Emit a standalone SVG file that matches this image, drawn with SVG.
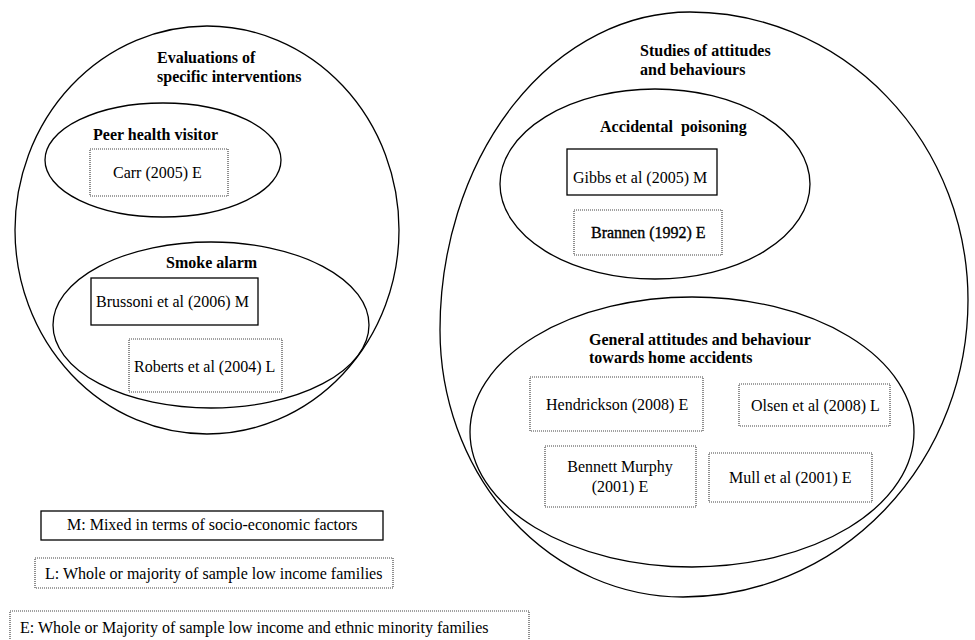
<svg xmlns="http://www.w3.org/2000/svg" width="975" height="640" viewBox="0 0 975 640">
<style>
text{font-family:"Liberation Serif","Times New Roman",serif;font-size:16px;fill:#000}
.b{font-weight:bold}
.el{fill:none;stroke:#000;stroke-width:1.3}
.solid{fill:#fff;stroke:#000;stroke-width:1.3}
.dot{fill:#fff;stroke:#444;stroke-width:1.2;stroke-dasharray:1 1}
</style>
<rect width="975" height="640" fill="#fff"/>
<g id="evaluations">
<ellipse class="el" cx="207" cy="230" rx="192" ry="204"/>
<text class="b" x="157" y="63">Evaluations of</text>
<text class="b" x="157" y="82">specific interventions</text>
</g>
<g id="peer">
<ellipse class="el" cx="163" cy="160" rx="118" ry="57"/>
<text class="b" x="93" y="140">Peer health visitor</text>
</g>
<g id="carr">
<rect class="dot" x="90" y="149" width="138" height="47"/>
<text x="113" y="178">Carr (2005) E</text>
</g>
<g id="smoke">
<ellipse class="el" cx="211" cy="325" rx="158" ry="83"/>
<text class="b" x="166" y="268">Smoke alarm</text>
</g>
<g id="brussoni">
<rect class="solid" x="91" y="278" width="167" height="47"/>
<text x="96" y="307">Brussoni et al (2006) M</text>
</g>
<g id="roberts">
<rect class="dot" x="129" y="339" width="153" height="53"/>
<text x="134" y="372">Roberts et al (2004) L</text>
</g>
<g id="studies">
<path class="el" d="M690,12 A278,288 0 0 1 968,300 A285,297 0 0 1 683,597 A243,267 0 0 1 440,330 A250,318 0 0 1 690,12 Z"/>
<text class="b" x="640" y="56">Studies of attitudes</text>
<text class="b" x="640" y="75">and behaviours</text>
</g>
<g id="poisoning">
<ellipse class="el" cx="655" cy="184" rx="155" ry="95"/>
<text class="b" x="600" y="132" xml:space="preserve">Accidental  poisoning</text>
</g>
<g id="gibbs">
<rect class="solid" x="567" y="149" width="150" height="46"/>
<text x="573" y="183">Gibbs et al (2005) M</text>
</g>
<g id="brannen">
<rect class="dot" x="574" y="210" width="148" height="45"/>
<text x="591" y="238" stroke="#000" stroke-width="0.35">Brannen (1992) E</text>
</g>
<g id="general">
<ellipse class="el" cx="692" cy="432" rx="222" ry="135"/>
<text class="b" x="589" y="345">General attitudes and behaviour</text>
<text class="b" x="589" y="363">towards home accidents</text>
</g>
<g id="hendrickson">
<rect class="dot" x="530" y="377" width="173" height="54"/>
<text x="546" y="410">Hendrickson (2008) E</text>
</g>
<g id="olsen">
<rect class="dot" x="739" y="384" width="151" height="42"/>
<text x="751" y="411">Olsen et al (2008) L</text>
</g>
<g id="bennett">
<rect class="dot" x="545" y="446" width="151" height="61"/>
<text x="620" y="472" text-anchor="middle">Bennett Murphy</text>
<text x="620" y="492" text-anchor="middle">(2001) E</text>
</g>
<g id="mull">
<rect class="dot" x="709" y="453" width="163" height="49"/>
<text x="729" y="483">Mull et al (2001) E</text>
</g>
<g id="legend-m">
<rect class="solid" x="41" y="511" width="342" height="29"/>
<text x="67" y="530">M: Mixed in terms of socio-economic factors</text>
</g>
<g id="legend-l">
<rect class="dot" x="35" y="558" width="358" height="30"/>
<text x="45" y="579">L: Whole or majority of sample low income families</text>
</g>
<g id="legend-e">
<rect class="dot" x="10" y="611" width="519" height="40"/>
<text x="20" y="633">E: Whole or Majority of sample low income and ethnic minority families</text>
</g>
<g id="connectors"></g>
</svg>
